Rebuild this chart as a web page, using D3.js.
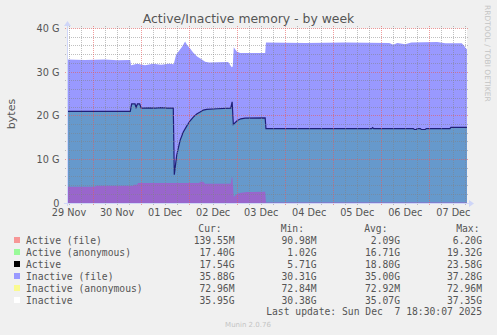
<!DOCTYPE html>
<html>
<head>
<meta charset="utf-8">
<script src="https://cdn.jsdelivr.net/npm/d3@7"></script>
<style>
body { margin: 0; background: #f0f0f0; }
svg { display: block; font-family: "DejaVu Sans", sans-serif; }
.mono { font-family: "DejaVu Sans Mono", monospace; font-size: 9.7px; fill: #555; white-space: pre; }
</style>
</head>
<body>
<svg id="chart" width="497" height="335"></svg>
<script>
// hours counted from 29 Nov 2025 00:00, values in G
const inactiveFileHours = [11, 20, 30, 36, 42.6, 43, 46, 50, 54, 58, 62, 64.3, 65.5, 67, 68.5, 70, 71, 72.5, 74, 76, 78, 80, 82, 91.5, 93.3, 93.8, 94.3, 95.8, 97.5, 110, 110.4, 130, 150, 172, 174, 176, 180, 183, 196, 200, 208.2, 209.3, 210.3, 210.8];
const inactiveFileG = [32.9, 32.8, 32.9, 32.7, 32.8, 31.6, 31.9, 31.6, 31.9, 31.7, 31.9, 31.8, 34.0, 34.9, 35.8, 37.0, 36.2, 35.4, 34.5, 33.6, 33.0, 32.4, 32.2, 32.3, 31.1, 31.3, 35.7, 34.7, 34.4, 34.4, 36.8, 36.7, 36.8, 36.7, 36.3, 36.7, 36.4, 36.8, 36.9, 36.6, 36.6, 36.1, 35.4, 35.3];

const activeHours = [11, 42.6, 43.3, 45, 45.5, 46.2, 47.3, 48.1, 52, 55, 58, 61, 64.1, 64.6, 65.8, 67.5, 69.1, 70.8, 72.5, 74.1, 75.8, 77.5, 79.1, 80.8, 86, 92.8, 93.5, 94.1, 96.1, 97.8, 100, 110, 110.4, 163.2, 163.7, 164.2, 184, 184.5, 185.5, 186, 187.5, 188, 190, 190.5, 202.3, 202.8, 210.8];
const activeG = [21.0, 21.0, 22.7, 22.7, 21.9, 22.7, 22.7, 21.75, 21.8, 21.75, 21.85, 21.75, 21.75, 6.5, 10.9, 14.35, 16.26, 17.63, 18.85, 19.7, 20.38, 20.84, 21.3, 21.45, 21.6, 21.75, 23.2, 18.0, 18.9, 19.3, 19.45, 19.5, 17.05, 17.05, 17.3, 17.05, 17.05, 16.85, 16.85, 17.05, 17.05, 16.85, 16.85, 17.05, 17.05, 17.35, 17.35];

const activeFileHours = [11, 25, 25.5, 44, 44.3, 46, 46.5, 77, 77.5, 79, 80, 92.8, 93.3, 93.6, 94.3, 96, 98, 101, 104, 110, 110.4, 210.8];
const activeFileG = [3.73, 3.73, 3.95, 3.95, 4.2, 4.2, 4.6, 4.6, 4.85, 4.85, 4.4, 4.4, 5.9, 5.9, 1.4, 2.1, 2.35, 2.5, 2.55, 2.6, 0.14, 0.14];

const yTicks = [0, 10, 20, 30, 40];
const yTickLabels = ["0", "10 G", "20 G", "30 G", "40 G"];

const legendNames = ["Active (file)", "Active (anonymous)", "Active", "Inactive (file)", "Inactive (anonymous)", "Inactive"];
const curValues = ["139.55M", "17.40G", "17.54G", "35.88G", "72.96M", "35.95G"];
const minValues = ["90.98M", "1.02G", "5.71G", "30.31G", "72.84M", "30.38G"];
const avgValues = ["2.09G", "16.71G", "18.80G", "35.00G", "72.92M", "35.07G"];
const maxValues = ["6.20G", "19.32G", "23.58G", "37.28G", "72.96M", "37.35G"];
const legendColors = ["#f79696", "#99fa99", "#000000", "#9999ff", "#fafa90", "#ffffff"];

const svg = d3.select("#chart");
const t0 = new Date(2025, 10, 29);
const toDate = h => d3.timeMinute.offset(t0, Math.round(h * 60));

const x = d3.scaleTime().domain([toDate(11), toDate(210.83)]).range([67, 467]);
const y = d3.scaleLinear().domain([0, 40]).range([203, 28.5]);

const zip = (hs, vs) => hs.map((h, i) => ({t: toDate(h), v: vs[i]}));
const inactiveFile = zip(inactiveFileHours, inactiveFileG);
const active = zip(activeHours, activeG);
const activeFile = zip(activeFileHours, activeFileG);

// canvas
svg.append("rect").attr("x", 67).attr("y", 28.5).attr("width", 400).attr("height", 174.5).attr("fill", "#fff");

const area = d3.area().x(d => x(d.t)).y0(y(0)).y1(d => y(d.v));
const line = d3.line().x(d => x(d.t)).y(d => y(d.v));

svg.append("path").datum(inactiveFile).attr("d", area).attr("fill", "#9999ff");
svg.append("path").datum(active).attr("d", area).attr("fill", "#6699cc");
svg.append("path").datum(activeFile).attr("d", area).attr("fill", "#9966cc");
svg.append("path").datum(active).attr("d", line).attr("fill", "none").attr("stroke", "#202078").attr("stroke-width", 1.2);

// grid on top
const grid = svg.append("g").attr("shape-rendering", "crispEdges").attr("stroke-dasharray", "1,1");
const minorY = d3.range(0, 41, 2).filter(v => v % 10 !== 0);
grid.selectAll(".hmin").data(minorY).join("line")
  .attr("x1", 65).attr("x2", 469)
  .attr("y1", d => Math.floor(y(d)) + 0.5).attr("y2", d => Math.floor(y(d)) + 0.5)
  .attr("stroke", "rgba(130,130,130,0.5)");
grid.selectAll(".hmaj").data(yTicks.filter(v => v > 0)).join("line")
  .attr("x1", 65).attr("x2", 469)
  .attr("y1", d => Math.floor(y(d)) + 0.5).attr("y2", d => Math.floor(y(d)) + 0.5)
  .attr("stroke", "rgba(230,90,90,0.6)");

const hours6 = d3.timeHour.every(6).range(x.domain()[0], x.domain()[1]);
grid.selectAll(".vmin").data(hours6.filter(d => d.getHours() !== 0)).join("line")
  .attr("y1", 26).attr("y2", 206)
  .attr("x1", d => Math.floor(x(d)) + 0.5).attr("x2", d => Math.floor(x(d)) + 0.5)
  .attr("stroke", "rgba(130,130,130,0.5)");
grid.selectAll(".vmaj").data(d3.timeDay.range(x.domain()[0], x.domain()[1])).join("line")
  .attr("y1", 26).attr("y2", 206)
  .attr("x1", d => Math.floor(x(d)) + 0.5).attr("x2", d => Math.floor(x(d)) + 0.5)
  .attr("stroke", "rgba(230,90,90,0.6)");

// axes with arrows
const axisCol = "#cfd6f8";
svg.append("line").attr("x1", 64).attr("x2", 470).attr("y1", 203.5).attr("y2", 203.5).attr("stroke", axisCol);
svg.append("line").attr("x1", 67.5).attr("x2", 67.5).attr("y1", 206).attr("y2", 24).attr("stroke", axisCol);
svg.append("path").attr("d", "M469,200 L474,203.5 L469,207 Z").attr("fill", axisCol);
svg.append("path").attr("d", "M64,26 L67.5,21 L71,26 Z").attr("fill", axisCol);

// y labels
svg.selectAll(".ylab").data(yTicks).join("text")
  .attr("x", 59.5).attr("y", d => y(d) + 3.5)
  .attr("text-anchor", "end").attr("font-size", "9.7px").attr("fill", "#555")
  .text((d, i) => yTickLabels[i]);

// x labels at noon
const days = d3.timeDay.range(d3.timeDay.floor(x.domain()[0]), x.domain()[1]);
svg.selectAll(".xlab").data(days).join("text")
  .attr("x", d => x(d3.timeHour.offset(d, 12)))
  .attr("y", 216)
  .attr("text-anchor", "middle").attr("font-size", "9.7px").attr("fill", "#555")
  .text(d3.timeFormat("%d %b"));

// titles
svg.append("text").attr("x", 248.5).attr("y", 23).attr("text-anchor", "middle")
  .attr("font-size", "12.4px").attr("fill", "#555").text("Active/Inactive memory - by week");
svg.append("text").attr("transform", "translate(15,114) rotate(-90)").attr("text-anchor", "middle")
  .attr("font-size", "11px").attr("fill", "#555").text("bytes");
svg.append("text").attr("transform", "translate(485,5) rotate(90)")
  .attr("font-size", "7.5px").attr("fill", "#c4c4c4").text("RRDTOOL / TOBI OETIKER");

// legend
const cols = [
  {head: "Cur:", headX: 221.7, valX: 234.5, vals: curValues},
  {head: "Min:", headX: 304, valX: 316.5, vals: minValues},
  {head: "Avg:", headX: 387.5, valX: 400, vals: avgValues},
  {head: "Max:", headX: 479.5, valX: 482, vals: maxValues}
];
cols.forEach(c => {
  svg.append("text").attr("class", "mono").attr("x", c.headX).attr("y", 231.5)
    .attr("text-anchor", "end").text(c.head);
  svg.selectAll(null).data(c.vals).join("text").attr("class", "mono")
    .attr("x", c.valX).attr("y", (d, i) => 243.5 + i * 12)
    .attr("text-anchor", "end").text(d => d);
});
const rows = svg.selectAll(".leg").data(legendNames).join("g")
  .attr("transform", (d, i) => `translate(0,${240 + i * 12})`);
rows.append("rect").attr("x", 14).attr("y", -3).attr("width", 6).attr("height", 6)
  .attr("fill", (d, i) => legendColors[i]);
rows.append("text").attr("class", "mono").attr("x", 26).attr("y", 3.5).text(d => d);

svg.append("text").attr("class", "mono").attr("x", 482).attr("y", 315)
  .attr("text-anchor", "end").text("Last update: Sun Dec  7 18:30:07 2025");
svg.append("text").attr("x", 248).attr("y", 327).attr("text-anchor", "middle")
  .attr("font-size", "7px").attr("fill", "#c4c4c4").text("Munin 2.0.76");
</script>
</body>
</html>
